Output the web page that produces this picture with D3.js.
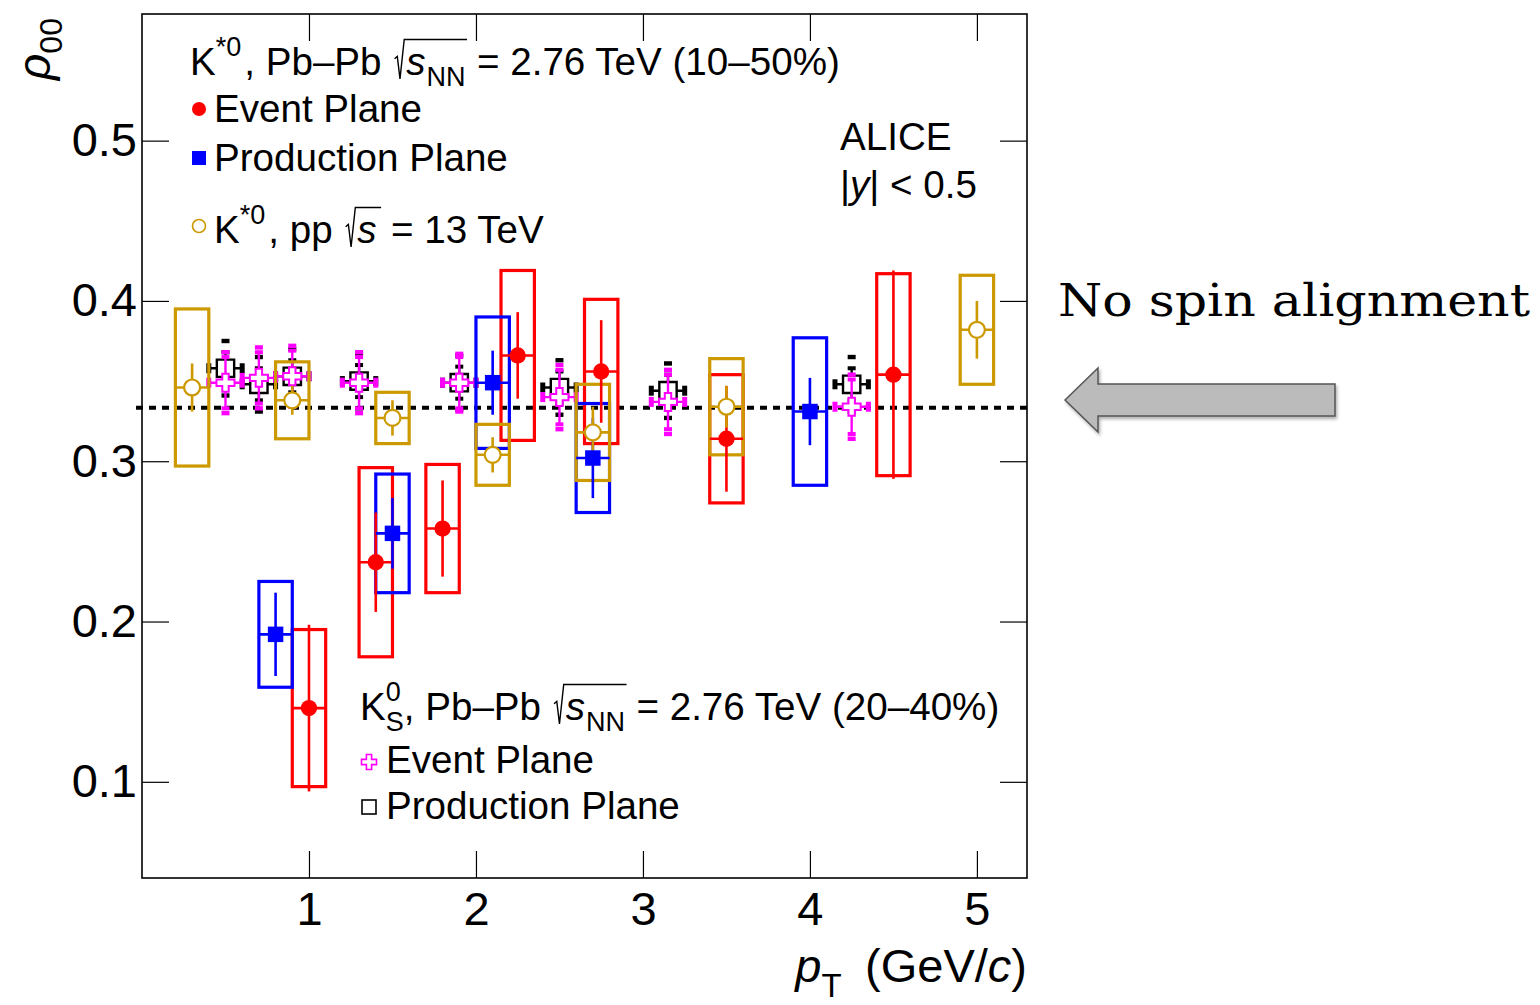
<html>
  <style type="text/css">
    body { margin: 0; background: #fff; }
  </style>
  <body>
    <script src="https://cdnjs.cloudflare.com/ajax/libs/d3/7.8.5/d3.min.js"></script>
    <script type="text/javascript">
      // K*0 Pb-Pb 10-50%, event plane
      const epPt = [1.0, 1.4, 1.8, 2.25, 2.75, 3.5, 4.5];
      const epVal = [0.146, 0.237, 0.258, 0.366, 0.356, 0.314, 0.354];
      const epStat = [0.052, 0.031, 0.030, 0.027, 0.032, 0.033, 0.065];
      const epSys = [0.049, 0.059, 0.040, 0.053, 0.045, 0.040, 0.063];

      // K*0 Pb-Pb 10-50%, production plane
      const prPt = [0.8, 1.5, 2.1, 2.7, 4.0];
      const prVal = [0.192, 0.255, 0.349, 0.302, 0.331];
      const prStat = [0.026, 0.022, 0.020, 0.025, 0.021];
      const prSys = [0.033, 0.037, 0.041, 0.034, 0.046];

      // K*0 pp 13 TeV
      const ppPt = [0.3, 0.9, 1.5, 2.1, 2.7, 3.5, 5.0];
      const ppVal = [0.346, 0.338, 0.327, 0.304, 0.318, 0.334, 0.382];
      const ppStat = [0.015, 0.009, 0.011, 0.011, 0.016, 0.013, 0.018];
      const ppSys = [0.049, 0.024, 0.016, 0.019, 0.030, 0.030, 0.034];

      // K0S Pb-Pb 20-40%
      const ksPt = [0.5, 0.7, 0.9, 1.3, 1.9, 2.5, 3.15, 4.25];
      const ksEpVal = [0.349, 0.352, 0.353, 0.349, 0.349, 0.340, 0.337, 0.334];
      const ksEpStat = [0.016, 0.016, 0.016, 0.016, 0.016, 0.017, 0.017, 0.017];
      const ksEpSys = [0.019, 0.019, 0.019, 0.019, 0.018, 0.020, 0.020, 0.020];
      const ksPpVal = [0.358, 0.348, 0.353, 0.350, 0.349, 0.346, 0.344, 0.348];
      const ksPpStat = [0.010, 0.010, 0.010, 0.010, 0.010, 0.010, 0.010, 0.010];
      const ksPpSys = [0.017, 0.017, 0.017, 0.017, 0.017, 0.017, 0.017, 0.017];

      const ptHalfWidth = 0.1;
      const xTicks = [1, 2, 3, 4, 5];
      const yTicks = [0.1, 0.2, 0.3, 0.4, 0.5];
      const noAlignment = 1 / 3;

      const frame = { left: 142, right: 1027, top: 14, bottom: 878 };
      const RED = "#ff0000", BLUE = "#0000ff", GOLD = "#cc9900", MAG = "#ff00ff";
      const SANS = "Liberation Sans, Arial, sans-serif";

      const svg = d3.select("body").append("svg").attr("width", 1540).attr("height", 1005)
        .style("font-family", SANS);

      const x = d3.scaleLinear().domain([0, 5.3]).range([frame.left, frame.right]);
      const y = d3.scaleLinear().domain([0.04, 0.579]).range([frame.bottom, frame.top]);

      // axes (ticks inside the frame, like ROOT)
      const tick = 27;
      const ax = svg.append("g").attr("class", "axes");
      function styleAxis(g) {
        g.select(".domain").remove();
        g.selectAll(".tick line").attr("stroke", "#000").attr("stroke-width", 1.2);
        g.selectAll("text").attr("font-family", SANS).attr("font-size", 47).attr("fill", "#000");
      }
      ax.append("g").attr("transform", `translate(0,${frame.bottom})`)
        .call(d3.axisBottom(x).tickValues(xTicks).tickSize(-tick).tickPadding(14).tickFormat(d3.format("d")))
        .call(styleAxis);
      ax.append("g").attr("transform", `translate(0,${frame.top})`)
        .call(d3.axisTop(x).tickValues(xTicks).tickSize(-tick).tickFormat(""))
        .call(styleAxis);
      ax.append("g").attr("transform", `translate(${frame.left},0)`)
        .call(d3.axisLeft(y).tickValues(yTicks).tickSize(-tick).tickPadding(5).tickFormat(d3.format(".1f")))
        .call(styleAxis);
      ax.append("g").attr("transform", `translate(${frame.right},0)`)
        .call(d3.axisRight(y).tickValues(yTicks).tickSize(-tick).tickFormat(""))
        .call(styleAxis);

      svg.append("rect")
        .attr("x", frame.left).attr("y", frame.top)
        .attr("width", frame.right - frame.left).attr("height", frame.bottom - frame.top)
        .attr("fill", "none").attr("stroke", "#000").attr("stroke-width", 1.6);

      // rho00 = 1/3 reference
      svg.append("line")
        .attr("x1", frame.left - 6).attr("x2", frame.right)
        .attr("y1", y(noAlignment)).attr("y2", y(noAlignment))
        .attr("stroke", "#000").attr("stroke-width", 4).attr("stroke-dasharray", "7,6");

      const zip = (pt, v, st, sy) => pt.map((p, i) => ({ p, v: v[i], st: st[i], sy: sy[i] }));

      const epData = zip(epPt, epVal, epStat, epSys);
      const prData = zip(prPt, prVal, prStat, prSys);
      const ppData = zip(ppPt, ppVal, ppStat, ppSys);
      const ksEpData = zip(ksPt, ksEpVal, ksEpStat, ksEpSys);
      const ksPpData = zip(ksPt, ksPpVal, ksPpStat, ksPpSys);

      function sysBoxes(data, color) {
        svg.append("g").selectAll("rect").data(data).enter().append("rect")
          .attr("x", d => x(d.p - ptHalfWidth))
          .attr("width", d => x(d.p + ptHalfWidth) - x(d.p - ptHalfWidth))
          .attr("y", d => y(d.v + d.sy))
          .attr("height", d => y(d.v - d.sy) - y(d.v + d.sy))
          .attr("fill", "none").attr("stroke", color).attr("stroke-width", 3.2);
      }

      function statBars(data, color) {
        const g = svg.append("g").attr("stroke", color).attr("stroke-width", 2.6);
        g.selectAll("line.v").data(data).enter().append("line").attr("class", "v")
          .attr("x1", d => x(d.p)).attr("x2", d => x(d.p))
          .attr("y1", d => y(d.v + d.st)).attr("y2", d => y(d.v - d.st));
        g.selectAll("line.h").data(data).enter().append("line").attr("class", "h")
          .attr("x1", d => x(d.p - ptHalfWidth)).attr("x2", d => x(d.p + ptHalfWidth))
          .attr("y1", d => y(d.v)).attr("y2", d => y(d.v));
      }

      const crossPath = (a, L) =>
        `M${-a},${-L}H${a}V${-a}H${L}V${a}H${a}V${L}H${-a}V${a}H${-L}V${-a}H${-a}Z`;

      function markers(data, kind, color) {
        const g = svg.append("g");
        const sel = g.selectAll("path").data(data).enter().append("path")
          .attr("transform", d => `translate(${x(d.p)},${y(d.v)})`);
        if (kind === "circle") sel.attr("d", d3.symbol(d3.symbolCircle, 210)).attr("fill", color);
        if (kind === "square") sel.attr("d", d3.symbol(d3.symbolSquare, 240)).attr("fill", color);
        if (kind === "ocircle") sel.attr("d", d3.symbol(d3.symbolCircle, 200)).attr("fill", "#fff").attr("stroke", color).attr("stroke-width", 2.2);
        if (kind === "osquare") sel.attr("d", d3.symbol(d3.symbolSquare, 300)).attr("fill", "#fff").attr("stroke", color).attr("stroke-width", 2.4);
        if (kind === "ocross") sel.attr("d", crossPath(3.2, 9)).attr("fill", "#fff").attr("stroke", color).attr("stroke-width", 2);
      }

      // K0S points: capped stat bars + bracket dashes for systematics
      function ksPoints(data, color, kind) {
        const g = svg.append("g").attr("fill", color);
        g.selectAll("rect.sys").data(data.flatMap(d => [d.v + d.sy, d.v - d.sy].map(v => ({ p: d.p, v }))))
          .enter().append("rect")
          .attr("x", d => x(d.p) - 4).attr("width", 8)
          .attr("y", d => y(d.v) - 2.2).attr("height", 4.4);
        const l = g.append("g").attr("stroke", color).attr("stroke-width", 2.4);
        l.selectAll("line.h").data(data).enter().append("line")
          .attr("x1", d => x(d.p - ptHalfWidth)).attr("x2", d => x(d.p + ptHalfWidth))
          .attr("y1", d => y(d.v)).attr("y2", d => y(d.v));
        l.selectAll("line.v").data(data).enter().append("line")
          .attr("x1", d => x(d.p)).attr("x2", d => x(d.p))
          .attr("y1", d => y(d.v + d.st)).attr("y2", d => y(d.v - d.st));
        g.selectAll("rect.capx").data(data.flatMap(d => [d.p - ptHalfWidth, d.p + ptHalfWidth].map(p => ({ p, v: d.v }))))
          .enter().append("rect")
          .attr("x", d => x(d.p) - 2.5).attr("width", 5)
          .attr("y", d => y(d.v) - 5).attr("height", 10);
        g.selectAll("rect.capy").data(data.flatMap(d => [d.v + d.st, d.v - d.st].map(v => ({ p: d.p, v }))))
          .enter().append("rect")
          .attr("x", d => x(d.p) - 4).attr("width", 8)
          .attr("y", d => y(d.v) - 2).attr("height", 4);
        markers(data, kind, color);
      }

      ksPoints(ksPpData, "#000", "osquare");
      ksPoints(ksEpData, MAG, "ocross");

      sysBoxes(epData, RED);
      sysBoxes(prData, BLUE);
      sysBoxes(ppData, GOLD);
      statBars(epData, RED);
      statBars(prData, BLUE);
      statBars(ppData, GOLD);
      markers(epData, "circle", RED);
      markers(prData, "square", BLUE);
      markers(ppData, "ocircle", GOLD);

      // rich text: segments placed one after another
      function rich(x0, y0, fs, segs) {
        const g = svg.append("g");
        let cx = x0;
        let radStart = null;
        segs.forEach(s => {
          if (s.rad === "open") {
            radStart = cx;
            cx += fs * 0.36;
            return;
          }
          if (s.rad === "close") {
            const p = `M${radStart + fs * 0.06},${y0 - fs * 0.42}L${radStart + fs * 0.13},${y0 - fs * 0.48}L${radStart + fs * 0.2},${y0 + fs * 0.1}L${radStart + fs * 0.31},${y0 - fs * 0.92}H${cx + fs * 0.04}`;
            g.append("path").attr("d", p).attr("fill", "none").attr("stroke", "#000").attr("stroke-width", 1.4);
            cx += fs * 0.02;
            return;
          }
          const size = s.sub || s.sup ? fs * 0.7 : fs;
          const dy = s.sub ? fs * 0.28 : s.sup ? -fs * 0.48 : 0;
          const t = g.append("text").attr("x", cx).attr("y", y0 + dy)
            .attr("font-size", size).attr("fill", "#000")
            .attr("font-style", s.it ? "italic" : null)
            .style("white-space", "pre").text(s.t);
          if (!s.stack) cx += t.node().getComputedTextLength() + (s.gap || 0);
        });
        return g;
      }

      const FS = 38.6;
      rich(190, 75, FS, [{ t: "K" }, { t: "*0", sup: true, gap: 3 }, { t: ", Pb\u2013Pb " }, { rad: "open" }, { t: "s", it: true, gap: 1 }, { t: "NN", sub: true }, { rad: "close" }, { t: " = 2.76 TeV (10\u201350%)" }]);
      svg.append("circle").attr("cx", 199).attr("cy", 109).attr("r", 7).attr("fill", RED);
      rich(214, 122, FS, [{ t: "Event Plane" }]);
      svg.append("rect").attr("x", 192).attr("y", 151).attr("width", 14).attr("height", 14).attr("fill", BLUE);
      rich(214, 171, FS, [{ t: "Production Plane" }]);
      svg.append("circle").attr("cx", 199).attr("cy", 226).attr("r", 6.5).attr("fill", "none").attr("stroke", GOLD).attr("stroke-width", 1.6);
      rich(214, 243, FS, [{ t: "K" }, { t: "*0", sup: true, gap: 3 }, { t: ", pp " }, { rad: "open" }, { t: "s", it: true, gap: 3 }, { rad: "close" }, { t: " = 13 TeV" }]);

      rich(840, 150, FS, [{ t: "ALICE" }]);
      rich(840, 198, FS, [{ t: "|" }, { t: "y", it: true }, { t: "| < 0.5" }]);

      rich(360, 720, FS, [{ t: "K" }, { t: "0", sup: true, stack: true }, { t: "S", sub: true }, { t: ", Pb\u2013Pb " }, { rad: "open" }, { t: "s", it: true, gap: 1 }, { t: "NN", sub: true }, { rad: "close" }, { t: " = 2.76 TeV (20\u201340%)" }]);
      svg.append("path").attr("transform", "translate(369,762)").attr("d", crossPath(2.6, 7.5))
        .attr("fill", "none").attr("stroke", MAG).attr("stroke-width", 1.6);
      rich(386, 773, FS, [{ t: "Event Plane" }]);
      svg.append("rect").attr("x", 362).attr("y", 800).attr("width", 14).attr("height", 14)
        .attr("fill", "none").attr("stroke", "#000").attr("stroke-width", 1.6);
      rich(386, 819, FS, [{ t: "Production Plane" }]);

      // axis titles
      const xt = svg.append("text").attr("x", frame.right).attr("y", 982).attr("text-anchor", "end")
        .attr("font-size", 47).attr("fill", "#000");
      xt.append("tspan").attr("font-style", "italic").text("p");
      xt.append("tspan").attr("font-size", 33).attr("dy", 15).text("T");
      xt.append("tspan").attr("dy", -15).text("\u2002(GeV/");
      xt.append("tspan").attr("font-style", "italic").text("c");
      xt.append("tspan").text(")");

      const yt = svg.append("text").attr("transform", "translate(50,80) rotate(-90)")
        .attr("font-size", 46).attr("fill", "#000");
      yt.append("tspan").attr("font-style", "italic").text("\u03c1");
      yt.append("tspan").attr("font-size", 32).attr("dy", 12).text("00");

      // annotation with arrow
      svg.append("text").attr("x", 1058).attr("y", 316)
        .style("font-family", "DejaVu Serif, Liberation Serif, serif").attr("font-size", 44)
        .attr("textLength", 472).attr("lengthAdjust", "spacingAndGlyphs")
        .attr("fill", "#000").text("No spin alignment");

      const defs = svg.append("defs");
      defs.append("filter").attr("id", "shadow").attr("x", "-10%").attr("y", "-20%").attr("width", "130%").attr("height", "160%")
        .append("feDropShadow").attr("dx", 1.5).attr("dy", 2.5).attr("stdDeviation", 1.5).attr("flood-color", "#000").attr("flood-opacity", 0.3);
      const arrow = d3.path();
      arrow.moveTo(1065, 400);
      arrow.lineTo(1098, 368);
      arrow.lineTo(1098, 384);
      arrow.lineTo(1335, 384);
      arrow.lineTo(1335, 416);
      arrow.lineTo(1098, 416);
      arrow.lineTo(1098, 432);
      arrow.closePath();
      svg.append("path").attr("d", arrow.toString())
        .attr("fill", "#bbbbbb").attr("stroke", "#555").attr("stroke-width", 1.5)
        .attr("filter", "url(#shadow)");
    </script>
  </body>
</html>
